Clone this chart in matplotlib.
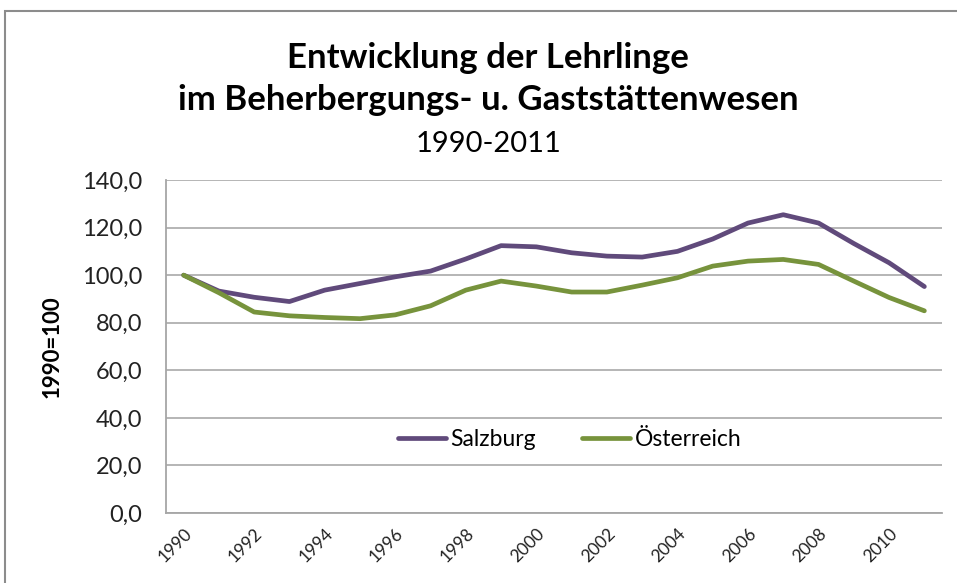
import matplotlib
matplotlib.use("Agg")
import matplotlib.pyplot as plt
from matplotlib.patches import Rectangle
from matplotlib.ticker import FuncFormatter

plt.rcParams['font.family'] = ['Lato', 'DejaVu Sans']

years = list(range(1990, 2012))
salzburg = [100.0, 93.3, 90.7, 88.9, 93.7, 96.5, 99.3, 101.7, 106.8, 112.4, 111.9,
            109.4, 108.0, 107.6, 110.0, 115.2, 121.9, 125.4, 121.9, 113.3, 105.2, 95.2]
oesterreich = [100.0, 92.6, 84.5, 82.9, 82.2, 81.7, 83.3, 87.1, 93.7, 97.5, 95.4,
               92.9, 92.9, 95.8, 98.9, 103.8, 105.9, 106.6, 104.5, 97.5, 90.6, 85.0]
series_names = ["Salzburg", "Österreich"]

fig = plt.figure(figsize=(9.57, 5.83), dpi=100)

# chart border like the Excel chart area
fig.patches.append(Rectangle((5 / 957, -0.1), 1.1, 1 - 11 / 583 + 0.1,
                             transform=fig.transFigure, fill=False,
                             edgecolor='#8c8c8c', linewidth=1.5))

ax = fig.add_axes([166 / 957, 1 - 513 / 583, (942 - 166) / 957, (513 - 180) / 583])

x = list(range(len(years)))
ax.plot(x, salzburg, color='#604a7b', linewidth=3.4, label=series_names[0],
        solid_capstyle='round', solid_joinstyle='round')
ax.plot(x, oesterreich, color='#77933c', linewidth=3.4, label=series_names[1],
        solid_capstyle='round', solid_joinstyle='round')

ax.set_xlim(-0.5, len(years) - 0.5)
ax.set_ylim(0, 140)
ax.set_yticks(range(0, 141, 20))
ax.yaxis.set_major_formatter(FuncFormatter(lambda v, p: f"{v:.1f}".replace('.', ',')))
ax.set_xticks(x[::2])
ax.set_xticklabels([str(y) for y in years[::2]], rotation=45, ha='right',
                   rotation_mode='anchor', fontsize=12.5, color='#222222')
ax.tick_params(axis='y', length=0, labelsize=17, pad=17, labelcolor='#222222')
ax.tick_params(axis='x', length=0, pad=9)
for lbl in ax.get_xticklabels():
    lbl.set_x(lbl.get_position()[0])

ax.grid(axis='y', color='#b0b0b0', linewidth=1.3)
ax.set_axisbelow(True)
for side in ['top', 'right']:
    ax.spines[side].set_visible(False)
for side in ['left', 'bottom']:
    ax.spines[side].set_color('#a6a6a6')
    ax.spines[side].set_linewidth(1.3)

ax.set_ylabel("1990=100", fontsize=16, fontweight='bold', labelpad=14)

leg = ax.legend(loc='center', bbox_to_anchor=(0.52, 0.22), ncol=2, frameon=False,
                fontsize=16.5, handlelength=2.1, handletextpad=0.2, columnspacing=2.0)

fig.text(0.51, 0.883, "Entwicklung der Lehrlinge", ha='center', fontsize=25,
         fontweight='bold')
fig.text(0.51, 0.811, "im Beherbergungs- u. Gaststättenwesen", ha='center', fontsize=25,
         fontweight='bold')
fig.text(0.51, 0.739, "1990-2011", ha='center', fontsize=21)

fig.savefig("out.png", dpi=100)
